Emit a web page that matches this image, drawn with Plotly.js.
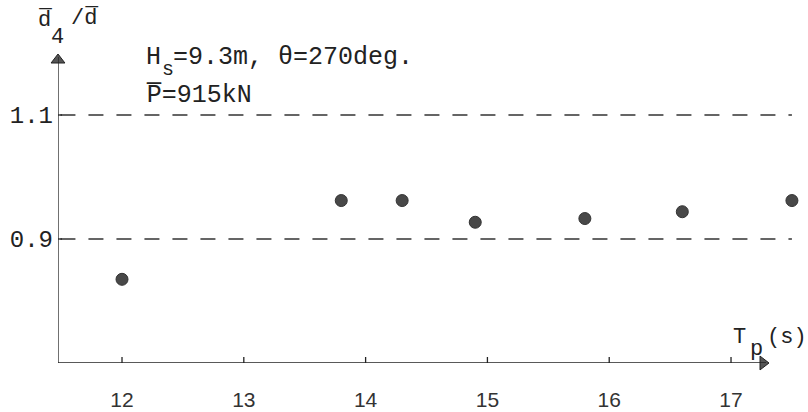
<!DOCTYPE html>
<html>
<head>
<meta charset="utf-8">
<script src="https://cdn.plot.ly/plotly-3.0.1.min.js"></script>
<style>
  html, body { margin: 0; padding: 0; background: #fff; }
  #chart { width: 808px; height: 412px; }
</style>
</head>
<body>
<div id="chart"></div>
<script>
// Peak period Tp (s) and mean-tension ratio d4/d for each test run
const periods = [12.0, 13.8, 14.3, 14.9, 15.8, 16.6, 17.5];
const ratios = [0.835, 0.962, 0.962, 0.927, 0.933, 0.944, 0.962];

// Reference levels drawn as dashed lines
const refLevels = [0.9, 1.1];

// Axis ticks
const xTicks = [12, 13, 14, 15, 16, 17];
const xTickText = ['12', '13', '14', '15', '16', '17'];
const yTicks = [0.9, 1.1];
const yTickText = ['0.9', '1.1'];

const X_MIN = 11.4745, X_MAX = 17.632, X_ARROW = 17.32;
const Y_MIN = 0.7, Y_MAX = 1.2;

const ink = '#222';
const mono = 'Liberation Mono, Courier New, monospace';

// plot area in pixels, used to place free text around the axes
const L = 58, T = 53, W = 750, H = 310;
const px = x => (x - L) / W;
const py = y => (T + H - y) / H;
const xPerPx = (X_MAX - X_MIN) / W;
const yPerPx = (Y_MAX - Y_MIN) / H;

function label(text, x, y, size) {
  return {
    text: text, xref: 'paper', yref: 'paper', x: px(x), y: py(y),
    xanchor: 'left', yanchor: 'middle', showarrow: false, borderpad: 0,
    font: { family: mono, size: size, color: ink }
  };
}

const shapes = [];
// axis lines
shapes.push({ type: 'line', xref: 'x', yref: 'y', x0: X_MIN, x1: X_ARROW - 4 * xPerPx,
  y0: Y_MIN, y1: Y_MIN, line: { color: ink, width: 1.3 } });
shapes.push({ type: 'line', xref: 'x', yref: 'y', x0: X_MIN, x1: X_MIN,
  y0: Y_MIN, y1: Y_MAX - 4 * yPerPx, line: { color: ink, width: 1.3 } });
refLevels.forEach(v => shapes.push({
  type: 'line', xref: 'x', yref: 'y', x0: X_MIN + 0.02, x1: 17.5, y0: v, y1: v,
  line: { color: '#333', width: 1.3, dash: '15px,13px' }
}));
// tick marks crossing the y axis
yTicks.forEach(v => shapes.push({
  type: 'line', xref: 'x', yref: 'y', xsizemode: 'pixel', xanchor: X_MIN,
  x0: -5, x1: 4, y0: v, y1: v, line: { color: ink, width: 1.3 }
}));
// tick marks crossing the x axis
xTicks.forEach(v => shapes.push({
  type: 'line', xref: 'x', yref: 'y', ysizemode: 'pixel', yanchor: Y_MIN,
  y0: -7, y1: 6, x0: v, x1: v, line: { color: ink, width: 1.3 }
}));

const annotations = [
  // y axis title
  label('d\u0305', 37, 20, 22),
  label('4', 50, 37, 22),
  label('/d\u0305', 70, 18, 22),
  // x axis title
  label('T', 732, 337, 22),
  label('p', 749, 349, 22),
  label('(s)', 766, 337, 22),
  // test conditions
  label('H', 145, 58, 25),
  label('s', 161, 69, 20),
  label('=9.3m, \u03b8=270deg.', 172, 58, 25),
  label('P\u0305=915kN', 145, 95, 25)
];

const data = [
  {
    type: 'scatter', mode: 'markers', x: periods, y: ratios,
    marker: { size: 12, color: '#484848', line: { color: '#333', width: 1 } },
    cliponaxis: false, hoverinfo: 'skip'
  },
  // arrowheads at the ends of both axes
  {
    type: 'scatter', mode: 'markers',
    x: [X_ARROW - 7 * xPerPx, X_MIN],
    y: [Y_MIN, Y_MAX - 7 * yPerPx],
    marker: { symbol: ['triangle-right', 'triangle-up'], size: 12, color: '#555',
      line: { color: ink, width: 1 } },
    cliponaxis: false, hoverinfo: 'skip'
  }
];

const layout = {
  width: 808, height: 412,
  margin: { l: L, r: 808 - L - W, t: T, b: 412 - T - H, pad: 0 },
  paper_bgcolor: '#fff', plot_bgcolor: '#fff',
  showlegend: false,
  xaxis: {
    range: [X_MIN, X_MAX], showgrid: false, zeroline: false, showline: false,
    tickmode: 'array', tickvals: xTicks, ticktext: xTickText, ticks: '',
    ticklabelstandoff: 22,
    tickfont: { family: 'Liberation Sans, Arial, sans-serif', size: 21, color: '#333' }
  },
  yaxis: {
    range: [Y_MIN, Y_MAX], showgrid: false, zeroline: false, showline: false,
    tickmode: 'array', tickvals: yTicks, ticktext: yTickText, ticks: '',
    ticklabelstandoff: 4,
    tickfont: { family: mono, size: 24, color: ink }
  },
  shapes: shapes,
  annotations: annotations
};

Plotly.newPlot('chart', data, layout, { staticPlot: true, displayModeBar: false });
</script>
</body>
</html>
